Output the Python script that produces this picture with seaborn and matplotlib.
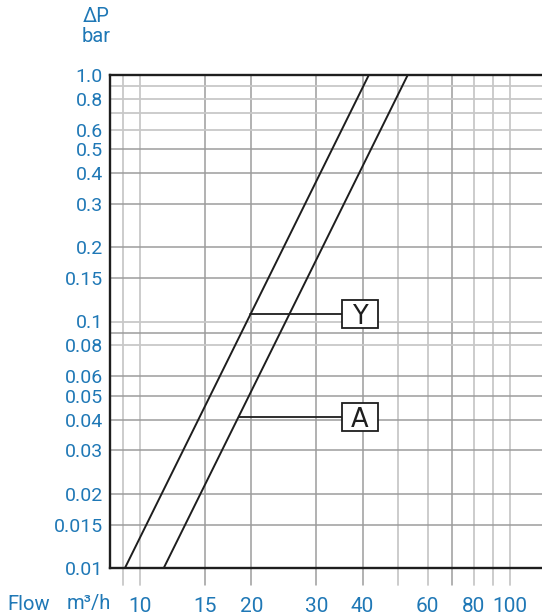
import numpy as np
import pandas as pd
import matplotlib
matplotlib.use("Agg")
import matplotlib.pyplot as plt
import matplotlib.ticker as mticker
import matplotlib.transforms as mtransforms
from matplotlib.patches import Rectangle
import seaborn as sns

# ---- data ----
flow_Y = [9.11, 41.6]
dp_Y = [0.01, 1.0]
flow_A = [11.6, 53.0]
dp_A = [0.01, 1.0]

label_Y_dp = 0.107
label_A_dp = 0.041
label_x = 39.3

x_ticks = [10, 15, 20, 30, 40, 60, 80, 100]
x_tick_labels = ["10", "15", "20", "30", "40", "60", "80", "100"]
y_ticks = [1.0, 0.8, 0.6, 0.5, 0.4, 0.3, 0.2, 0.15, 0.1, 0.08, 0.06, 0.05,
           0.04, 0.03, 0.02, 0.015, 0.01]
y_tick_labels = ["1.0", "0.8", "0.6", "0.5", "0.4", "0.3", "0.2", "0.15", "0.1",
                 "0.08", "0.06", "0.05", "0.04", "0.03", "0.02", "0.015", "0.01"]

xgrid_dark = [15, 20, 30, 40, 70]
xgrid_light = [9, 10, 50, 60, 80, 90, 100]
ygrid_dark = [0.5, 0.4, 0.3, 0.2, 0.15, 0.09, 0.06, 0.05, 0.04, 0.03, 0.02, 0.015]
ygrid_light = [0.9, 0.8, 0.7, 0.6, 0.1, 0.08]

df = pd.concat([
    pd.DataFrame({"flow": flow_Y, "dp": dp_Y, "curve": "Y"}),
    pd.DataFrame({"flow": flow_A, "dp": dp_A, "curve": "A"}),
])

sns.set_style("white")
plt.rcParams["font.family"] = ["Roboto", "DejaVu Sans"]

BLUE = "#1f78b6"
DARK = "#9c9c9c"
LIGHT = "#c8c8c8"
INK = "#1e1e1e"

fig = plt.figure(figsize=(5.42, 6.16), dpi=100)
ax = fig.add_axes([110 / 542, 1 - 568 / 616, 1 - 110 / 542, (568 - 75) / 616])
ax.set_xscale("log")
ax.set_yscale("log")
ax.set_xlim(8.30, 122.3)
ax.set_ylim(0.01, 1.0)

ext = 17 / 493
for v in xgrid_light:
    ax.axvline(v, ymin=-ext, ymax=1, color=LIGHT, lw=1.3, clip_on=False, zorder=1)
for v in xgrid_dark:
    ax.axvline(v, ymin=-ext, ymax=1, color=DARK, lw=1.1, clip_on=False, zorder=1)
for v in ygrid_light:
    ax.axhline(v, color=LIGHT, lw=1.3, zorder=1)
for v in ygrid_dark:
    ax.axhline(v, color=DARK, lw=1.1, zorder=1)

sns.lineplot(data=df, x="flow", y="dp", units="curve", estimator=None,
             color=INK, lw=1.4, ax=ax, zorder=3, legend=False)

# leaders and labelled boxes (box size fixed in inches, centred on data point)
bw, bh = 0.36, 0.28
for fl, dp, ldp, name in [(flow_Y, dp_Y, label_Y_dp, "Y"), (flow_A, dp_A, label_A_dp, "A")]:
    x_on = 10 ** np.interp(np.log10(ldp), np.log10(dp), np.log10(fl))
    ax.plot([x_on, label_x], [ldp, ldp], color=INK, lw=1.3, zorder=3)
    trans = fig.dpi_scale_trans + mtransforms.ScaledTranslation(label_x, ldp, ax.transData)
    ax.add_patch(Rectangle((-bw / 2, -bh / 2), bw, bh, transform=trans, fc="white",
                           ec=INK, lw=1.3, zorder=5, clip_on=False))
    ax.text(label_x, ldp, name, ha="center", va="center_baseline", fontsize=18.5,
            family=["Liberation Sans Narrow", "DejaVu Sans"], color=INK, zorder=6)

ax.xaxis.set_minor_locator(mticker.NullLocator())
ax.yaxis.set_minor_locator(mticker.NullLocator())
ax.set_xticks(x_ticks)
ax.set_xticklabels(x_tick_labels)
ax.set_yticks(y_ticks)
ax.set_yticklabels(y_tick_labels)
ax.tick_params(axis="x", length=0, pad=21, labelsize=15, labelcolor=BLUE)
ax.tick_params(axis="y", length=3, width=1, color=DARK, pad=2, labelsize=14, labelcolor=BLUE)
ax.set_xlabel("")
ax.set_ylabel("")

for s in ["left", "top", "bottom"]:
    ax.spines[s].set_visible(True)
    ax.spines[s].set_color(INK)
    ax.spines[s].set_linewidth(1.7)
    ax.spines[s].set_zorder(4)
ax.spines["right"].set_visible(False)

fig.text(96 / 542, 1 - 17 / 616, "ΔP", ha="center", va="center", fontsize=14.5,
         color=BLUE)
fig.text(96 / 542, 1 - 37 / 616, "bar", ha="center", va="center", fontsize=14.5,
         color=BLUE)
fig.text(7 / 542, 1 - 604 / 616, "Flow", ha="left", va="center", fontsize=14.5,
         color=BLUE)
fig.text(67 / 542, 1 - 604 / 616, "m³/h", ha="left", va="center", fontsize=14.5,
         color=BLUE)

fig.savefig("out.png", dpi=100)
